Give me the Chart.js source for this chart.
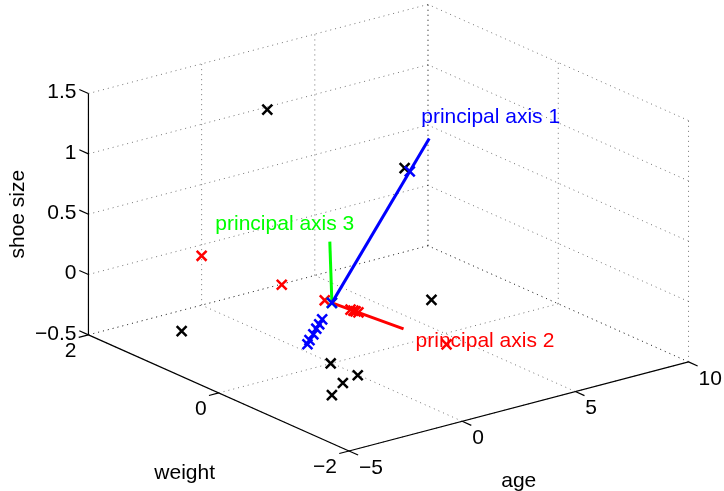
<!DOCTYPE html>
<html>
<head>
<meta charset="utf-8">
<script src="https://cdn.jsdelivr.net/npm/chart.js@4"></script>
<style>
  html, body { margin: 0; padding: 0; background: #fff; }
  #wrap { width: 724px; height: 491px; position: relative; }
</style>
</head>
<body>
<div id="wrap"><canvas id="chart"></canvas></div>
<script>
// Axis ticks (age, weight, shoe size)
const ageTicks = [-5, 0, 5, 10];
const weightTicks = [-2, 0, 2];
const shoeTicks = [-0.5, 0, 0.5, 1, 1.5];

// Centered data: [age, weight, shoe size]
const samples = [
  [1.75, 1.6, 1.13],
  [3.5, 0.1, 0.92],
  [-3.76, 1.0, -0.29],
  [2.96, -0.5, 0.0],
  [-1.78, -0.6, -0.27],
  [-1.16, -0.8, -0.35],
  [-1.53, -0.7, -0.42],
  [-2.59, -0.9, -0.42]
];

// Projections onto principal axis 1 (blue)
const proj1 = [
  [3.44, 0, 0.92],
  [0, 0, 0],
  [-0.43, 0, -0.115],
  [-0.56, 0, -0.15],
  [-0.69, 0, -0.18],
  [-0.82, 0, -0.22],
  [-0.99, 0, -0.26],
  [-1.08, 0, -0.29]
];

// Projections onto principal axis 2 (red)
const proj2 = [
  [0, 2.0, -0.091],
  [0, 0.77, -0.035],
  [0, 0.11, -0.005],
  [0, -0.286, 0.013],
  [0, -0.33, 0.015],
  [0, -0.363, 0.017],
  [0, -0.407, 0.019],
  [0, -1.76, 0.08]
];

// Projections onto principal axis 3 (green)
const proj3 = [
  [0, 0, 0]
];

const center = [0, 0, 0];
const axis1End = [4.3, 0, 1.15];
const axis2End = [0, -1.1, 0.05];
const axis3End = [-0.15, -0.02, 0.52];

// view (MATLAB style azimuth / elevation) and plot box aspect
const view = { az: -37.5, el: 20, box: [1, 1, 0.6] };
const viewX = [-0.8154, 0.8762];
const viewY = [-0.0935, 1.0537];

const FONT = '21px "Liberation Sans", Arial, sans-serif';

const ageMin = ageTicks[0], ageMax = ageTicks[ageTicks.length - 1];
const wMin = weightTicks[0], wMax = weightTicks[weightTicks.length - 1];
const sMin = shoeTicks[0], sMax = shoeTicks[shoeTicks.length - 1];

function project(p) {
  const az = view.az * Math.PI / 180, el = view.el * Math.PI / 180;
  const u = (p[0] - ageMin) / (ageMax - ageMin) * view.box[0];
  const v = (p[1] - wMin) / (wMax - wMin) * view.box[1];
  const t = (p[2] - sMin) / (sMax - sMin) * view.box[2];
  return {
    x: Math.cos(az) * u + Math.sin(az) * v,
    y: -Math.sin(el) * Math.sin(az) * u + Math.sin(el) * Math.cos(az) * v + Math.cos(el) * t
  };
}

const layers = []; // pushed bottom first

function segment(a, b, color, width, dash) {
  layers.push({
    type: 'scatter',
    data: [project(a), project(b)],
    showLine: true,
    borderColor: color,
    borderWidth: width,
    borderDash: dash || [],
    pointRadius: 0,
    fill: false
  });
}

function markers(points, color) {
  layers.push({
    type: 'scatter',
    data: points.map(project),
    pointStyle: 'crossRot',
    pointRadius: 7,
    borderColor: color,
    borderWidth: 2.5,
    backgroundColor: color
  });
}

// grid: floor, back wall (weight = max), back wall (age = max)
const gridColor = 'rgba(0,0,0,0.55)';
const dot = [1, 4];
ageTicks.forEach(a => segment([a, wMin, sMin], [a, wMax, sMin], gridColor, 1, dot));
weightTicks.forEach(w => segment([ageMin, w, sMin], [ageMax, w, sMin], gridColor, 1, dot));
ageTicks.forEach(a => segment([a, wMax, sMin], [a, wMax, sMax], gridColor, 1, dot));
shoeTicks.forEach(s => segment([ageMin, wMax, s], [ageMax, wMax, s], gridColor, 1, dot));
weightTicks.forEach(w => segment([ageMax, w, sMin], [ageMax, w, sMax], gridColor, 1, dot));
shoeTicks.forEach(s => segment([ageMax, wMin, s], [ageMax, wMax, s], gridColor, 1, dot));

// axes
segment([ageMin, wMax, sMin], [ageMin, wMax, sMax], '#000', 1.2);
segment([ageMin, wMax, sMin], [ageMin, wMin, sMin], '#000', 1.2);
segment([ageMin, wMin, sMin], [ageMax, wMin, sMin], '#000', 1.2);

// tick marks
shoeTicks.forEach(s => segment([ageMin, wMax, s], [ageMin, wMax + 0.14, s], '#000', 1.2));
weightTicks.forEach(w => segment([ageMin, w, sMin], [ageMin - 0.43, w, sMin], '#000', 1.2));
ageTicks.forEach(a => segment([a, wMin, sMin], [a, wMin - 0.14, sMin], '#000', 1.2));

// data
markers(samples, '#000');
segment(center, axis2End, '#ff0000', 3);
markers(proj2, '#ff0000');
segment(center, axis3End, '#00ff00', 3);
markers(proj3, '#00ff00');
segment(center, axis1End, '#0000ff', 3);
markers(proj1, '#0000ff');

function fmt(v) {
  return v < 0 ? '\u2212' + Math.abs(v) : String(v);
}

const labels3d = {
  id: 'labels3d',
  afterDatasetsDraw(chart) {
    const ctx = chart.ctx, sx = chart.scales.x, sy = chart.scales.y;
    const px = p => { const q = project(p); return [sx.getPixelForValue(q.x), sy.getPixelForValue(q.y)]; };
    ctx.save();
    ctx.font = FONT;
    ctx.textBaseline = 'middle';
    ctx.fillStyle = '#000';

    ctx.textAlign = 'right';
    shoeTicks.forEach(s => {
      const [x, y] = px([ageMin, wMax, s]);
      ctx.fillText(fmt(s), x - 12, y - 1);
    });
    weightTicks.forEach(w => {
      const [x, y] = px([ageMin, w, sMin]);
      ctx.fillText(fmt(w), x - 12, y + 16);
    });
    ctx.textAlign = 'left';
    ageTicks.forEach(a => {
      const [x, y] = px([a, wMin, sMin]);
      ctx.fillText(fmt(a), x + 10, y + 17);
    });

    // axis titles
    ctx.textAlign = 'center';
    let [x, y] = px([(ageMin + ageMax) / 2, wMin, sMin]);
    ctx.fillText('age', x, y + 75);
    [x, y] = px([ageMin, (wMin + wMax) / 2, sMin]);
    ctx.fillText('weight', x - 34, y + 80);
    [x, y] = px([ageMin, wMax, (sMin + sMax) / 2]);
    ctx.save();
    ctx.translate(x - 70, y);
    ctx.rotate(-Math.PI / 2);
    ctx.fillText('shoe size', 0, 0);
    ctx.restore();

    // principal axis labels
    ctx.textAlign = 'left';
    ctx.fillStyle = '#0000ff';
    [x, y] = px(axis1End);
    ctx.fillText('principal axis 1', x - 8, y - 21);
    ctx.fillStyle = '#ff0000';
    [x, y] = px(axis2End);
    ctx.fillText('principal axis 2', x + 12, y + 12);
    ctx.fillStyle = '#00ff00';
    ctx.textAlign = 'center';
    [x, y] = px(axis3End);
    ctx.fillText('principal axis 3', x - 45, y - 17);
    ctx.restore();
  }
};

new Chart(document.getElementById('chart'), {
  type: 'scatter',
  data: { datasets: layers.slice().reverse() },
  options: {
    responsive: true,
    maintainAspectRatio: false,
    animation: false,
    layout: { padding: 0, autoPadding: false },
    plugins: { legend: { display: false }, tooltip: { enabled: false } },
    scales: {
      x: { type: 'linear', display: false, min: viewX[0], max: viewX[1] },
      y: { type: 'linear', display: false, min: viewY[0], max: viewY[1] }
    }
  },
  plugins: [labels3d]
});
</script>
</body>
</html>
